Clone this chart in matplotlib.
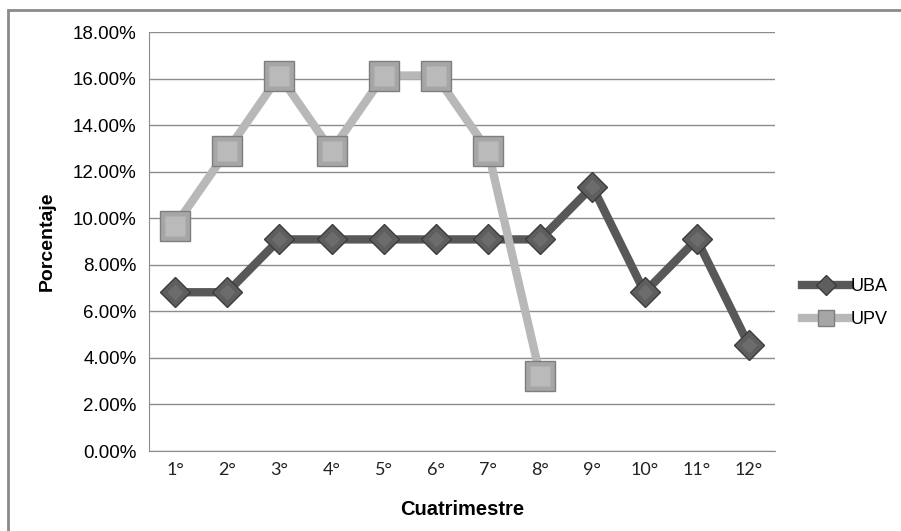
import matplotlib.pyplot as plt
from matplotlib.patches import Rectangle
from matplotlib.lines import Line2D
from matplotlib.ticker import FuncFormatter

# Porcentaje de alumnos por cuatrimestre
cuatrimestres = ['1°', '2°', '3°', '4°', '5°', '6°', '7°', '8°', '9°', '10°', '11°', '12°']
uba = [6.82, 6.82, 9.09, 9.09, 9.09, 9.09, 9.09, 9.09, 11.36, 6.82, 9.09, 4.55]
upv = [9.68, 12.90, 16.13, 12.90, 16.13, 16.13, 12.90, 3.23]

plt.rcParams['font.family'] = ['Liberation Sans', 'DejaVu Sans']

fig = plt.figure(figsize=(9.01, 5.31), dpi=100)
ax = fig.add_axes([149/901, 80/531, 626/901, 419/531])

# marco exterior del grafico
fig.patches.append(Rectangle((8/901, -0.1), 1.2, (521/531) + 0.1, transform=fig.transFigure,
                             fill=False, edgecolor='#8a8a8a', linewidth=2, zorder=0))

x_uba = list(range(len(uba)))
x_upv = list(range(len(upv)))

c_uba = '#585858'
c_upv = '#b8b8b8'

ax.plot(x_uba, uba, color=c_uba, linewidth=6, zorder=3, solid_capstyle='round')
ax.plot(x_uba, uba, linestyle='none', marker='D', markersize=15.5,
        markerfacecolor='#5e5e5e', markeredgecolor='#3c3c3c', markeredgewidth=1, zorder=4)
ax.plot(x_uba, uba, linestyle='none', marker='D', markersize=8,
        markerfacecolor='#6c6c6c', markeredgecolor='none', zorder=4)

ax.plot(x_upv, upv, color=c_upv, linewidth=6, zorder=5, solid_capstyle='round')
# cuadrados con efecto biselado
ax.plot(x_upv, upv, linestyle='none', marker='s', markersize=21.5,
        markerfacecolor='#a6a6a6', markeredgecolor='#7e7e7e', markeredgewidth=1, zorder=6)
ax.plot(x_upv, upv, linestyle='none', marker='s', markersize=14,
        markerfacecolor='#bababa', markeredgecolor='none', zorder=7)

ax.set_xlim(-0.5, len(cuatrimestres) - 0.5)
ax.set_ylim(0, 18)
ax.set_yticks(range(0, 19, 2))
ax.yaxis.set_major_formatter(FuncFormatter(lambda v, p: f'{v:.2f}%'))
ax.set_xticks(x_uba)
ax.set_xticklabels(cuatrimestres, family=['Lato', 'DejaVu Sans'], fontsize=13, color='#222222')
ax.tick_params(axis='y', labelsize=13.5, length=0, pad=9)
ax.tick_params(axis='x', length=0, pad=8)
ax.grid(axis='y', color='#8c8c8c', linewidth=1)
ax.set_axisbelow(True)

for s in ['top', 'right']:
    ax.spines[s].set_visible(False)
ax.spines['left'].set_color('#8c8c8c')
ax.spines['bottom'].set_color('#8c8c8c')

ax.set_xlabel('Cuatrimestre', fontsize=14.5, fontweight='bold', labelpad=16)
ax.set_ylabel('Porcentaje', fontsize=14, fontweight='bold', labelpad=12)

handles = [
    Line2D([], [], color=c_uba, linewidth=6, marker='D', markersize=10,
           markerfacecolor='#5e5e5e', markeredgecolor='#3c3c3c'),
    Line2D([], [], color=c_upv, linewidth=6, marker='s', markersize=12,
           markerfacecolor='#a6a6a6', markeredgecolor='#7e7e7e'),
]
fig.legend(handles, ['UBA', 'UPV'], loc='center left', bbox_to_anchor=(786/901, 1 - 303/531),
           frameon=False, fontsize=13, handlelength=2.6, handletextpad=0.1, labelspacing=0.9)

fig.savefig('out.png', dpi=100)
